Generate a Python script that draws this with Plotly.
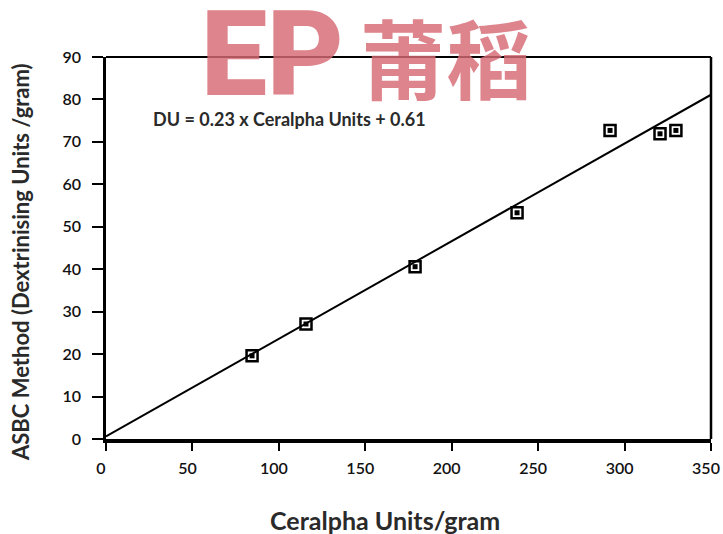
import plotly.graph_objects as go

# Measured samples: Ceralpha assay vs ASBC method
ceralpha_units = [84.5, 115.7, 178.8, 237.8, 291.6, 320.5, 329.7]
asbc_du = [19.6, 27.1, 40.6, 53.3, 72.7, 71.9, 72.7]

# Regression line DU = slope * Ceralpha + intercept
slope = 0.23
intercept = 0.61
fit_x = [0, 350]
fit_y = [slope * v + intercept for v in fit_x]

x_ticks = [0, 50, 100, 150, 200, 250, 300, 350]
y_ticks = [0, 10, 20, 30, 40, 50, 60, 70, 80, 90]

W, H = 723, 534
ML, MR, MT, MB = 106, 12, 57, 95
PW, PH = W - ML - MR, H - MT - MB


def px(x):
    """Horizontal pixel -> paper fraction."""
    return (x - ML) / PW


def py(y):
    """Vertical pixel (from top) -> paper fraction."""
    return (H - MB - y) / PH


fig = go.Figure()

fig.add_trace(go.Scatter(
    x=fit_x, y=fit_y, mode="lines",
    line=dict(color="black", width=2),
    hoverinfo="skip", showlegend=False,
))

fig.add_trace(go.Scatter(
    x=ceralpha_units, y=asbc_du, mode="markers",
    marker=dict(symbol="square-open", size=11, color="black",
                line=dict(color="black", width=2.5)),
    showlegend=False,
))
fig.add_trace(go.Scatter(
    x=ceralpha_units, y=asbc_du, mode="markers",
    marker=dict(symbol="square", size=5, color="black"),
    hoverinfo="skip", showlegend=False,
))

tick_font = dict(family="Lato", size=16, color="#111111", weight=600)

fig.update_xaxes(
    range=[0, 350], tickvals=x_ticks, ticks="outside", ticklen=8,
    tickwidth=2, tickcolor="black", showline=True, linewidth=4,
    linecolor="black", showgrid=False, zeroline=False,
    tickfont=tick_font, ticklabeloverflow="allow", automargin=False,
    ticklabelshift=-5, ticklabelstandoff=4,
)
fig.update_yaxes(
    range=[0, 90], tickvals=y_ticks, ticks="outside", ticklen=11,
    tickwidth=2, tickcolor="black", showline=True, linewidth=2.5,
    linecolor="black", showgrid=False, zeroline=False,
    tickfont=tick_font, ticklabeloverflow="allow", automargin=False,
    ticklabelstandoff=8,
)

# top and right frame lines
fig.add_shape(type="line", xref="paper", yref="paper", x0=0, x1=1, y0=1, y1=1,
              line=dict(color="black", width=2))
fig.add_shape(type="line", xref="paper", yref="paper", x0=1, x1=1, y0=0, y1=1,
              line=dict(color="black", width=2.5))

ann_list = []
# logo mark across the top
ann_list.append(dict(
    text="EP",
    x=px(272), y=py(55), xref="paper", yref="paper",
    xanchor="center", yanchor="middle", showarrow=False,
    font=dict(family="Roboto", size=118, color="rgba(214,105,115,0.82)",
              weight=900),
))
ann_list.append(dict(
    text="莆稻",
    x=px(446), y=py(55), xref="paper", yref="paper",
    xanchor="center", yanchor="middle", showarrow=False,
    font=dict(family="Noto Sans CJK SC", size=86,
              color="rgba(214,105,115,0.82)", weight="bold"),
))
ann_list.append(dict(
    text="DU = 0.23 x Ceralpha Units + 0.61",
    x=px(289), y=py(119), xref="paper", yref="paper",
    xanchor="center", yanchor="middle", showarrow=False,
    font=dict(family="Lato", size=18, color="#2a2a2a", weight="bold"),
))
ann_list.append(dict(
    text="Ceralpha Units/gram",
    x=px(385), y=py(520), xref="paper", yref="paper",
    xanchor="center", yanchor="middle", showarrow=False,
    font=dict(family="Lato", size=25, color="#2a2a2a", weight="bold"),
))
ann_list.append(dict(
    text="ASBC Method (Dextrinising Units /gram)",
    x=px(20), y=py(262), xref="paper", yref="paper",
    xanchor="center", yanchor="middle", showarrow=False, textangle=-90,
    font=dict(family="Lato", size=22, color="#2a2a2a", weight="bold"),
))

fig.update_layout(
    width=W, height=H,
    margin=dict(l=ML, r=MR, t=MT, b=MB, autoexpand=False),
    paper_bgcolor="white", plot_bgcolor="white",
    annotations=ann_list,
    showlegend=False,
)

fig.write_html("out.html")
